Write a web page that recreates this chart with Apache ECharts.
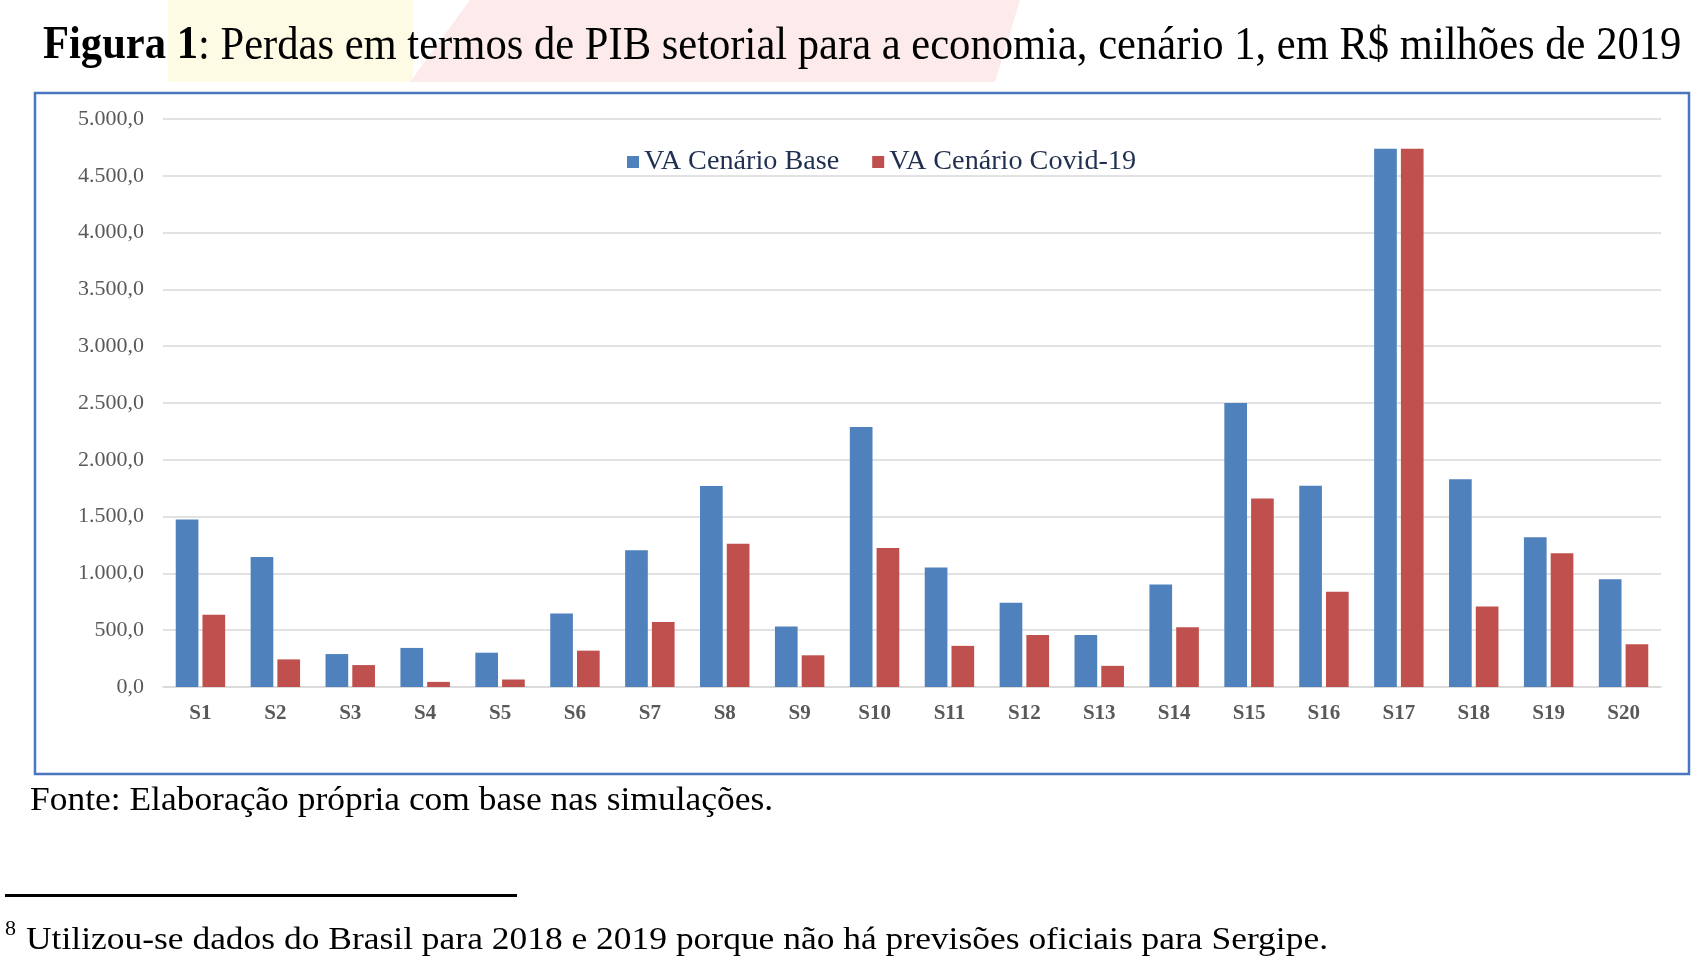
<!DOCTYPE html>
<html>
<head>
<meta charset="utf-8">
<script src="https://cdn.jsdelivr.net/npm/echarts@6/dist/echarts.min.js"></script>
<style>
  html, body { margin: 0; padding: 0; background: #fff; }
  #main { width: 1700px; height: 966px; }
</style>
</head>
<body>
<div id="main"></div>
<script>
// setores
var setores = ['S1','S2','S3','S4','S5','S6','S7','S8','S9','S10',
               'S11','S12','S13','S14','S15','S16','S17','S18','S19','S20'];
// VA cenario base (R$ milhoes)
var vaBase = [1475, 1145, 290, 344, 302, 648, 1203, 1770, 533, 2289,
              1052, 742, 457, 902, 2499, 1771, 4738, 1828, 1319, 948];
// VA cenario covid-19
var vaCovid = [636, 243, 193, 45, 66, 320, 573, 1261, 279, 1223,
               362, 457, 186, 526, 1659, 839, 4738, 708, 1177, 376];
var yTicks = { min: 0, max: 5000, interval: 500 };

var serif = '"Liberation Serif", "DejaVu Serif", serif';

// 5000 -> "5.000,0"
function fmtBR(v) {
    return String(v).replace(/\B(?=(\d{3})+(?!\d))/g, '.') + ',0';
}

var chart = echarts.init(document.getElementById('main'), null, { renderer: 'canvas' });

var option = {
    backgroundColor: '#fff',
    animation: false,
    legend: {
        left: 622,
        top: 143,
        icon: 'rect',
        itemWidth: 12,
        itemHeight: 12,
        itemGap: 33,
        textStyle: { fontFamily: serif, fontSize: 28.2, color: '#1f3050' },
        data: ['VA Cenário Base', 'VA Cenário Covid-19']
    },
    grid: { left: 163, right: 39, top: 119, bottom: 279 },
    xAxis: {
        type: 'category',
        data: setores,
        axisLine: { lineStyle: { color: '#d9d9d9', width: 1.5 } },
        axisTick: { show: false },
        axisLabel: { fontFamily: serif, fontSize: 21, fontWeight: 'bold', color: '#595959', margin: 16 }
    },
    yAxis: {
        type: 'value',
        min: yTicks.min,
        max: yTicks.max,
        interval: yTicks.interval,
        axisLine: { show: false },
        axisTick: { show: false },
        axisLabel: { fontFamily: serif, fontSize: 22, color: '#595959', margin: 19, formatter: fmtBR },
        splitLine: { lineStyle: { color: '#d9d9d9', width: 1.5 } }
    },
    series: [{
        name: 'VA Cenário Base',
        type: 'bar',
        data: vaBase,
        barGap: '18%',
        barCategoryGap: '34%',
        itemStyle: { color: '#4f81bd' }
    }, {
        name: 'VA Cenário Covid-19',
        type: 'bar',
        data: vaCovid,
        itemStyle: { color: '#c0504d' }
    }],
    graphic: [
        // manchas claras atras do titulo
        { type: 'rect', z: -10, shape: { x: 168, y: 0, width: 245, height: 82 }, style: { fill: '#fdfbe3' } },
        { type: 'polygon', z: -10, shape: { points: [[470, 0], [1020, 0], [995, 82], [410, 82]] }, style: { fill: '#fdeaea' } },
        // titulo (um pouco comprimido na horizontal, como no original)
        { type: 'text', x: 43, y: 46.5, scaleX: 0.926,
          style: {
              text: '{b|Figura 1}{n|: Perdas em termos de PIB setorial para a economia, cenário 1, em R$ milhões de 2019}',
              verticalAlign: 'middle',
              rich: {
                  b: { fontFamily: serif, fontSize: 46, fontWeight: 'bold', fill: '#000' },
                  n: { fontFamily: serif, fontSize: 46, fontWeight: 'normal', fill: '#000' }
              }
          } },
        // moldura do grafico
        { type: 'rect', z: -5, shape: { x: 35, y: 93, width: 1654, height: 681 },
          style: { fill: '#fff', stroke: '#4a76c0', lineWidth: 2.5 } },
        { type: 'text', x: 30, y: 801, scaleX: 1.074,
          style: { text: 'Fonte: Elaboração própria com base nas simulações.', font: '33px ' + serif,
                   fill: '#000', verticalAlign: 'middle' } },
        { type: 'rect', shape: { x: 5, y: 894, width: 512, height: 3 }, style: { fill: '#000' } },
        { type: 'text', x: 5, y: 930, scaleX: 1.1,
          style: { text: '8', font: '20px ' + serif, fill: '#000', verticalAlign: 'middle' } },
        { type: 'text', x: 26, y: 941, scaleX: 1.108,
          style: { text: 'Utilizou-se dados do Brasil para 2018 e 2019 porque não há previsões oficiais para Sergipe.',
                   font: '32px ' + serif, fill: '#000', verticalAlign: 'middle' } }
    ]
};

chart.setOption(option);
</script>
</body>
</html>
